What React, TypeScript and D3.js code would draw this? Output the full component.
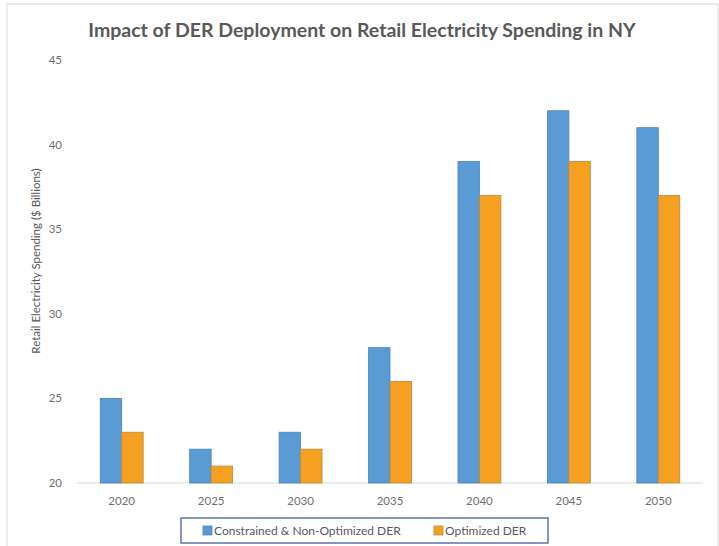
import React from "react";
import * as d3 from "d3";

const categories = ["2020", "2025", "2030", "2035", "2040", "2045", "2050"];
const constrained = [25, 22, 23, 28, 39, 42, 41];
const optimized = [23, 21, 22, 26, 37, 39, 37];
const yTicks = [20, 25, 30, 35, 40, 45];
const seriesNames = ["Constrained & Non-Optimized DER", "Optimized DER"];

const W = 719;
const H = 546;
const FONT = "Lato, 'Open Sans', sans-serif";
const TEXT = "#595959";
const TICK = "#6f6f6f";
const BLUE = "#5B9BD5";
const ORANGE = "#F5A021";

export default function App() {
  const x = d3
    .scaleBand<string>()
    .domain(categories)
    .range([77, 703])
    .paddingInner(0.52)
    .paddingOuter(0.26);
  const inner = d3
    .scaleBand<number>()
    .domain([0, 1])
    .range([0, x.bandwidth()]);
  const y = d3.scaleLinear().domain([20, 45]).range([483, 60]);
  const series = [constrained, optimized];
  const colors = [BLUE, ORANGE];
  const strokes = ["#4A84BC", "#B98A3E"];

  return (
    <svg
      width={W}
      height={H}
      style={{ position: "absolute", left: 0, top: 0, background: "#fff" }}
    >
      <rect x={7} y={4} width={711} height={560} fill="#fff" stroke="#d9d9d9" strokeWidth={1} />
      <text
        x={362}
        y={37}
        textAnchor="middle"
        fontFamily={FONT}
        fontWeight="bold"
        fontSize={19.5}
        fill={TEXT}
      >
        Impact of DER Deployment on Retail Electricity Spending in NY
      </text>
      {yTicks.map((t) => (
        <text
          key={t}
          x={62}
          y={y(t)}
          dy="0.35em"
          textAnchor="end"
          fontFamily={FONT}
          fontSize={11.5}
          fill={TICK}
        >
          {t}
        </text>
      ))}
      <text
        transform={`translate(40,261) rotate(-90)`}
        textAnchor="middle"
        fontFamily={FONT}
        fontSize={11.5}
        fill={TEXT}
      >
        Retail Electricity Spending ($ Billions)
      </text>
      <line x1={77} x2={703} y1={y(20)} y2={y(20)} stroke="#d9d9d9" strokeWidth={1} />
      {categories.map((c, i) => (
        <g key={c}>
          {series.map((s, k) => (
            <rect
              key={k}
              x={(x(c) as number) + (inner(k) as number)}
              y={y(s[i])}
              width={inner.bandwidth()}
              height={y(20) - y(s[i])}
              fill={colors[k]}
              stroke={strokes[k]}
              strokeWidth={0.8}
            />
          ))}
          <text
            x={(x(c) as number) + x.bandwidth() / 2}
            y={505}
            textAnchor="middle"
            fontFamily={FONT}
            fontSize={11.5}
            fill={TICK}
          >
            {c}
          </text>
        </g>
      ))}
      <rect x={181} y={518} width={367} height={25} fill="#fff" stroke="#5B74A8" strokeWidth={1.5} />
      {seriesNames.map((n, k) => {
        const lx = k === 0 ? 203 : 434;
        return (
          <g key={n}>
            <rect x={lx} y={526} width={9} height={9} fill={colors[k]} stroke={strokes[k]} strokeWidth={0.8} />
            <text
              x={lx + 11}
              y={531}
              dy="0.35em"
              fontFamily={FONT}
              fontSize={12}
              fill={TEXT}
            >
              {n}
            </text>
          </g>
        );
      })}
    </svg>
  );
}
